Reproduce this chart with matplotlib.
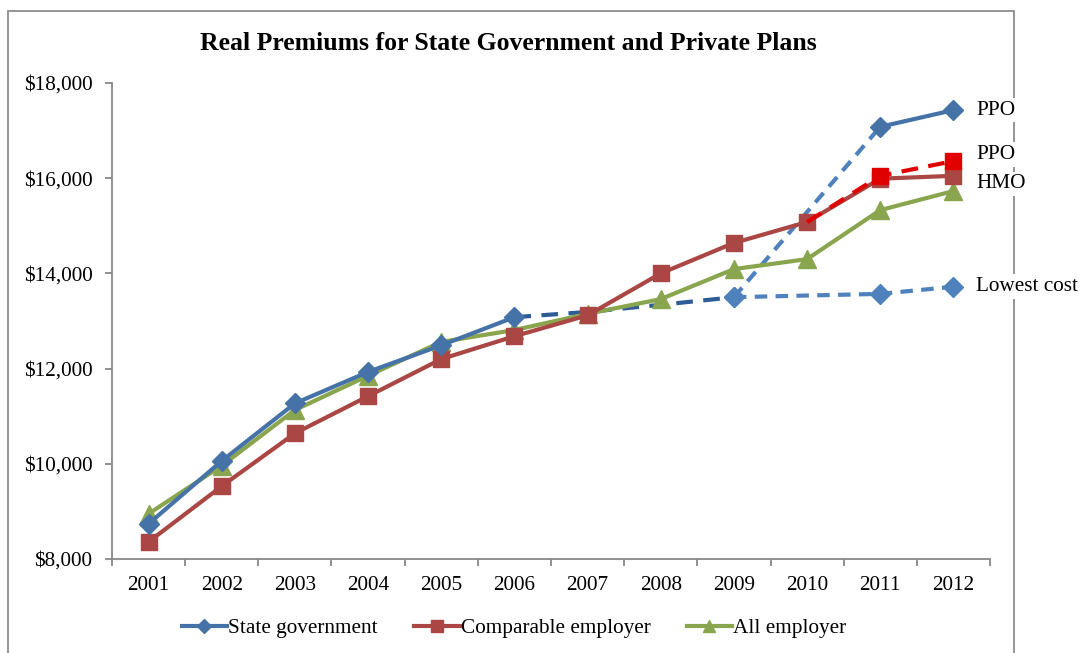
import numpy as np
import matplotlib
matplotlib.use("Agg")
import matplotlib.pyplot as plt
from matplotlib.patches import Rectangle

plt.rcParams["font.family"] = ["Liberation Serif", "DejaVu Serif"]

years = ["2001", "2002", "2003", "2004", "2005", "2006",
         "2007", "2008", "2009", "2010", "2011", "2012"]

# solid series (NaN where the series has no point)
state_gov = [8740, 10060, 11270, 11930, 12490, 13080,
             np.nan, np.nan, np.nan, np.nan, 17080, 17430]
comparable = [8360, 9530, 10640, 11420, 12200, 12680,
              13120, 14000, 14640, 15080, 15990, 16050]
all_employer = [8950, 9960, 11130, 11850, 12560, 12810,
                13150, 13460, 14090, 14300, 15330, 15730]

# dashed extensions of the state plans
state_bridge = [np.nan] * 5 + [13080, 13190, 13340, 13500] + [np.nan] * 3
state_ppo = [np.nan] * 8 + [13500, 15290, 17080, np.nan]
state_low = [np.nan] * 8 + [13500, 13535, 13570, 13720]
comp_ppo = [np.nan] * 9 + [15080, 16050, 16360]

end_labels = ["PPO", "PPO", "HMO", "Lowest cost"]
end_label_y = [17430, 16500, 15880, 13720]

BLUE = "#4572A7"
BLUE_LIGHT = "#4F81BD"
BLUE_DARK = "#2E5C96"
RED = "#AA4643"
RED_BRIGHT = "#E00000"
GREEN = "#89A54E"
FS = 15.3

W, H = 1081, 653
fig = plt.figure(figsize=(W / 100, H / 100), dpi=100)
ax = fig.add_axes([112 / W, 1 - 559 / H, (990 - 112) / W, (559 - 83) / H])

x = np.arange(len(years))
lw = 3.0

ax.plot(x, state_bridge, color=BLUE_DARK, lw=lw, ls=(0, (4, 2.5)), zorder=3)
ax.plot(x, state_low, color=BLUE_LIGHT, lw=lw, ls=(0, (3, 2)), zorder=3)
ax.plot(x, state_ppo, color=BLUE_LIGHT, lw=lw, ls=(0, (3, 2)), zorder=3)
ax.plot(x[[8, 10, 11]], np.array(state_low)[[8, 10, 11]], ls="none",
        marker="D", ms=10, color=BLUE_LIGHT, zorder=4)

ax.plot(x, all_employer, color=GREEN, lw=lw, marker="^", ms=12.5, zorder=3)
ax.plot(x, comparable, color=RED, lw=lw, marker="s", ms=11, zorder=3)
ax.plot(x, comp_ppo, color=RED_BRIGHT, lw=lw, ls=(0, (4, 2.5)), zorder=4)
ax.plot(x[10:], comp_ppo[10:], ls="none", marker="s", ms=11,
        color=RED_BRIGHT, zorder=5)
ax.plot(x, state_gov, color=BLUE, lw=lw, marker="D", ms=10, zorder=5)
ax.plot(x[8], state_ppo[8], ls="none", marker="D", ms=10, color=BLUE_LIGHT, zorder=5)

ax.set_xlim(-0.5, 11.5)
ax.set_ylim(8000, 18000)
ax.set_yticks(range(8000, 18001, 2000))
ax.set_yticklabels([f"${v:,.0f}" for v in range(8000, 18001, 2000)])
ax.set_xticks(x)
ax.set_xticklabels(years)
ax.set_xticks(np.arange(-0.5, 12, 1), minor=True)
ax.tick_params(axis="x", which="major", length=0, pad=12, labelsize=FS)
ax.tick_params(axis="x", which="minor", length=5, color="#888888", width=1.3)
ax.tick_params(axis="y", length=5, color="#888888", width=1.3, labelsize=FS, pad=9)
for side in ["top", "right"]:
    ax.spines[side].set_visible(False)
for side in ["left", "bottom"]:
    ax.spines[side].set_color("#888888")
    ax.spines[side].set_linewidth(1.3)

# labels for the plan types at the right end
for lab, yv in zip(end_labels, end_label_y):
    ax.text(11.5 - 14 / 73.2, yv, lab, fontsize=FS, va="center", ha="left",
            clip_on=False, zorder=6,
            bbox=dict(facecolor="white", edgecolor="none", pad=2))

# chart frame
fig.patches.append(Rectangle((8 / W, -0.05), (1014 - 8) / W, 1 - 11 / H + 0.05,
                             transform=fig.transFigure, fill=False,
                             edgecolor="#8C8C8C", lw=1.3, zorder=-5))

fig.text(508 / W, 1 - 44 / H, "Real Premiums for State Government and Private Plans",
         ha="center", va="center", fontsize=18.5, fontweight="bold")

handles = [
    plt.Line2D([], [], color=BLUE, lw=lw, marker="D", ms=7),
    plt.Line2D([], [], color=RED, lw=lw, marker="s", ms=9),
    plt.Line2D([], [], color=GREEN, lw=lw, marker="^", ms=9),
]
fig.legend(handles, ["State government", "Comparable employer", "All employer"],
           loc="center", bbox_to_anchor=(514 / W, 1 - 628 / H), ncol=3,
           frameon=False, fontsize=FS, handlelength=2.15, handletextpad=0.05,
           columnspacing=1.7)

fig.savefig("out.png", dpi=100, facecolor="white")
